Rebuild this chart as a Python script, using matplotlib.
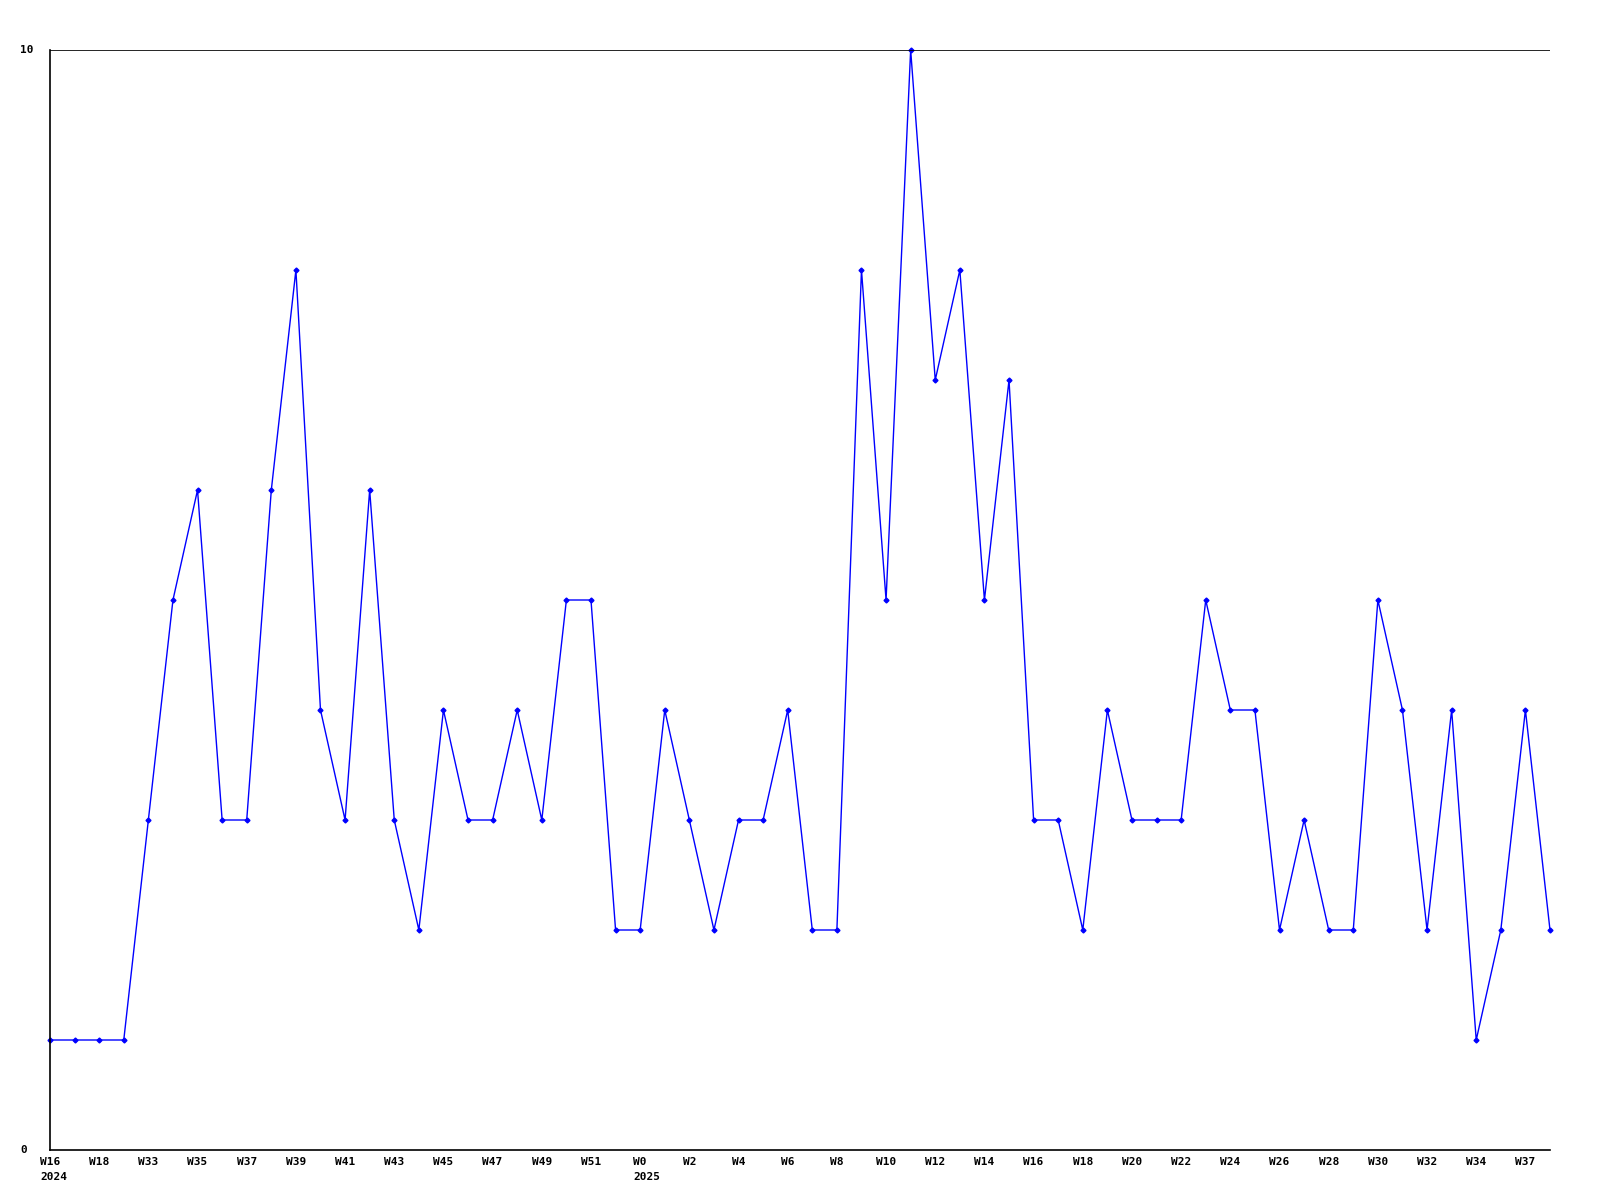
import matplotlib
matplotlib.use("Agg")
import matplotlib.pyplot as plt

week_labels = ["W16", "W18", "W33", "W35", "W37", "W39", "W41", "W43", "W45", "W47",
               "W49", "W51", "W0", "W2", "W4", "W6", "W8", "W10", "W12", "W14",
               "W16", "W18", "W20", "W22", "W24", "W26", "W28", "W30", "W32", "W34", "W37"]
year_labels = {0: "2024", 24: "2025"}
values = [1, 1, 1, 1, 3, 5, 6, 3, 3, 6, 8, 4, 3, 6, 3, 2, 4, 3, 3, 4,
          3, 5, 5, 2, 2, 4, 3, 2, 3, 3, 4, 2, 2, 8, 5, 10, 7, 8, 5, 7,
          3, 3, 2, 4, 3, 3, 3, 5, 4, 4, 2, 3, 2, 2, 5, 4, 2, 4, 1, 2,
          4, 2]

fig = plt.figure(figsize=(16, 12), dpi=100)
ax = fig.add_axes([50/1600, 1 - 1150/1200, 1500/1600, 1100/1200])
x = list(range(len(values)))
ax.plot(x, values, color="#0000ff", linewidth=1.0, marker="D", markersize=2.5,
        markerfacecolor="#0000ff", markeredgecolor="#0000ff", clip_on=False)
ax.set_xlim(0, len(values) - 1)
ax.set_ylim(0, 10)
ax.axhline(10, color="black", linewidth=1.2)
for s in ["top", "right"]:
    ax.spines[s].set_visible(False)
for s in ["left", "bottom"]:
    ax.spines[s].set_linewidth(1.2)
ax.set_yticks([])
ax.set_xticks([])

font = dict(family="DejaVu Sans Mono", fontsize=8, fontweight="bold")
char_w = 6.7
for i, lab in enumerate(week_labels):
    xi = 2 * i
    xc = 50 + xi * 1500 / (len(values) - 1)
    fig.text(xc / 1600, 1 - 1162/1200, lab, ha="center", va="center", **font)
    if xi in year_labels:
        left = xc - len(lab) * char_w / 2
        fig.text(left / 1600, 1 - 1177/1200, year_labels[xi], ha="left", va="center", **font)
fig.text(20/1600, 1 - 50/1200, "10", ha="left", va="center", **font)
fig.text(20/1600, 1 - 1150/1200, "0", ha="left", va="center", **font)

fig.savefig("out.png", dpi=100)
